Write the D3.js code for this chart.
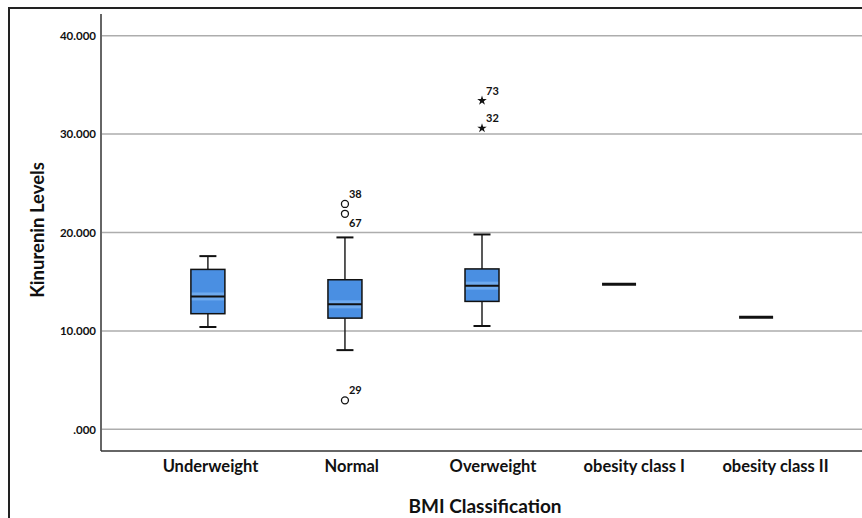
<!doctype html>
<html lang="en">
<head>
    <meta charset="utf-8"/>
    <title>Kinurenin Levels by BMI Classification</title>
    <script src="https://d3js.org/d3.v7.min.js"></script>
    <style>
        body { margin: 0; background: #fff; }
        text { font-family: Lato, "Open Sans", sans-serif; font-weight: bold; fill: #111; }
    </style>
</head>
<body>

<svg id="chart"></svg>

<script>
    // chart values
    const categories = ["Underweight", "Normal", "Overweight", "obesity class I", "obesity class II"]
    const whiskerLow  = [10.4, 8.05, 10.5, null, null]
    const q1          = [11.75, 11.3, 13.0, 14.75, 11.4]
    const median      = [13.5, 12.7, 14.6, 14.75, 11.4]
    const q3          = [16.25, 15.2, 16.3, 14.75, 11.4]
    const whiskerHigh = [17.6, 19.5, 19.8, null, null]
    const outlierCats   = ["Normal", "Normal", "Normal", "Overweight", "Overweight"]
    const outlierValues = [22.9, 21.9, 2.95, 33.4, 30.6]
    const outlierIds    = ["38", "67", "29", "73", "32"]
    const outlierKinds  = ["mild", "mild", "mild", "extreme", "extreme"]
    const yTicks = [0, 10, 20, 30, 40]

    let width = 862,
        height = 518;

    const svg = d3.select("#chart")
        .attr("width", width)
        .attr("height", height);

    // outer frame (runs off the right and bottom of the picture)
    svg.append("rect")
        .attr("x", 9).attr("y", 8)
        .attr("width", 900).attr("height", 560)
        .attr("fill", "none")
        .attr("stroke", "#222")
        .attr("stroke-width", 2);

    let x = d3.scalePoint()
        .domain(categories)
        .range([101, 863])
        .padding(0.78);

    let labelX = d3.scalePoint()
        .domain(categories)
        .range([210, 775]);

    let y = d3.scaleLinear()
        .domain([-2.2, 42.2])
        .range([451, 14]);

    // gridlines
    svg.append("g")
        .selectAll("line")
        .data(yTicks)
        .enter()
        .append("line")
        .attr("x1", 102).attr("x2", width)
        .attr("y1", d => y(d)).attr("y2", d => y(d))
        .attr("stroke", "#adadad")
        .attr("stroke-width", 1.5);

    // y axis
    let yAxis = d3.axisLeft(y)
        .tickValues(yTicks)
        .tickSize(0)
        .tickPadding(5)
        .tickFormat(d => d3.format(".3f")(d).replace(/^0\./, "."));

    let yg = svg.append("g")
        .attr("transform", "translate(101,0)")
        .call(yAxis);
    yg.select(".domain").remove();
    yg.selectAll("text").style("font-size", "11.5px").style("font-family", "Lato, sans-serif");

    svg.append("line")
        .attr("x1", 101).attr("x2", 101)
        .attr("y1", 14).attr("y2", 451)
        .attr("stroke", "#333").attr("stroke-width", 1.5);
    svg.append("line")
        .attr("x1", 101).attr("x2", width)
        .attr("y1", 451).attr("y2", 451)
        .attr("stroke", "#333").attr("stroke-width", 1.5);

    // x axis labels
    let xAxis = d3.axisBottom(labelX).tickSize(0).tickPadding(0);
    let xg = svg.append("g")
        .attr("transform", "translate(0,459)")
        .call(xAxis);
    xg.select(".domain").remove();
    xg.selectAll("text")
        .attr("dy", "0.78em")
        .style("font-size", "16.5px")
        .style("font-family", "Lato, sans-serif");

    // axis titles
    svg.append("text")
        .attr("x", 485).attr("y", 513)
        .attr("text-anchor", "middle")
        .style("font-size", "19px")
        .text("BMI Classification");

    svg.append("text")
        .attr("transform", "translate(44,230) rotate(-90)")
        .attr("text-anchor", "middle")
        .style("font-size", "18.5px")
        .text("Kinurenin Levels");

    // box data table
    let boxes = categories.map((c, i) => ({
        cat: c, lo: whiskerLow[i], q1: q1[i], med: median[i], q3: q3[i], hi: whiskerHigh[i]
    }));

    let boxW = 34, capW = 17;
    let g = svg.append("g");

    boxes.forEach(b => {
        let cx = x(b.cat);
        if (b.q1 === b.q3) {
            // single case: only the median line
            g.append("line")
                .attr("x1", cx - boxW / 2).attr("x2", cx + boxW / 2)
                .attr("y1", y(b.med)).attr("y2", y(b.med))
                .attr("stroke", "#111").attr("stroke-width", 3);
            return;
        }
        // whiskers
        [[b.lo, b.q1], [b.q3, b.hi]].forEach(([a, c]) => {
            g.append("line")
                .attr("x1", cx).attr("x2", cx)
                .attr("y1", y(a)).attr("y2", y(c))
                .attr("stroke", "#222").attr("stroke-width", 1.5);
        });
        [b.lo, b.hi].forEach(v => {
            g.append("line")
                .attr("x1", cx - capW / 2).attr("x2", cx + capW / 2)
                .attr("y1", y(v)).attr("y2", y(v))
                .attr("stroke", "#111").attr("stroke-width", 2);
        });
        // box
        g.append("rect")
            .attr("x", cx - boxW / 2).attr("y", y(b.q3))
            .attr("width", boxW).attr("height", y(b.q1) - y(b.q3))
            .attr("fill", "#4a8fe2");
        // lighter sheen next to the median
        g.append("rect")
            .attr("x", cx - boxW / 2).attr("y", y(b.med) - 4)
            .attr("width", boxW).attr("height", 8)
            .attr("fill", "#6eaaee");
        g.append("rect")
            .attr("x", cx - boxW / 2).attr("y", y(b.q3))
            .attr("width", boxW).attr("height", y(b.q1) - y(b.q3))
            .attr("fill", "none")
            .attr("stroke", "#111").attr("stroke-width", 1.5);
        g.append("line")
            .attr("x1", cx - boxW / 2).attr("x2", cx + boxW / 2)
            .attr("y1", y(b.med)).attr("y2", y(b.med))
            .attr("stroke", "#111").attr("stroke-width", 2);
    });

    // outliers and extremes
    let outliers = outlierValues.map((v, i) => ({
        cat: outlierCats[i], value: v, id: outlierIds[i], kind: outlierKinds[i]
    }));

    outliers.forEach(o => {
        let cx = x(o.cat), cy = y(o.value);
        if (o.kind === "extreme") {
            g.append("path")
                .attr("d", d3.symbol().type(d3.symbolStar).size(28))
                .attr("transform", `translate(${cx},${cy})`)
                .attr("fill", "#111");
        } else {
            g.append("circle")
                .attr("cx", cx).attr("cy", cy).attr("r", 3.5)
                .attr("fill", "#fff")
                .attr("stroke", "#111").attr("stroke-width", 1.3);
        }
        // label below the point when another point sits just above it
        let crowded = outliers.some(p => p !== o && p.cat === o.cat &&
            p.value > o.value && p.value - o.value < 1.5);
        g.append("text")
            .attr("x", cx + 4)
            .attr("y", crowded ? cy + 13 : cy - 6)
            .style("font-size", "11px")
            .text(o.id);
    });
</script>

</body>
</html>
